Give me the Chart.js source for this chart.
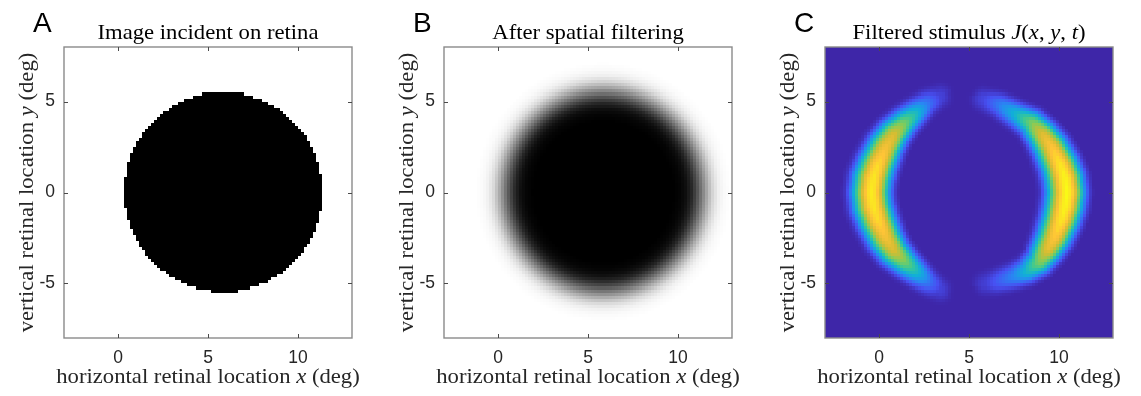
<!DOCTYPE html>
<html><head><meta charset="utf-8">
<script src="https://cdn.jsdelivr.net/npm/chart.js@4.4.1/dist/chart.umd.min.js"></script>
<style>
html,body{margin:0;padding:0;background:#fff;width:1141px;height:396px;overflow:hidden}
canvas{position:absolute;top:0}
</style></head><body>
<canvas id="cA" width="380" height="396" style="left:0px"></canvas>
<canvas id="cB" width="380" height="396" style="left:380px"></canvas>
<canvas id="cC" width="380" height="396" style="left:761px"></canvas>
<script>
// ---------------- data ----------------
const xTicks = [0, 5, 10];
const yTicks = [-5, 0, 5];
const xLimits = [-3, 13];
const yLimits = [-8, 8];
const cellSize = 1 / 6;                 // image resolution (deg per cell)

const panelLetters = ['A', 'B', 'C'];
const titleA = [['Image incident on retina', 'n']];
const titleB = [['After spatial filtering', 'n']];
const titleC = [['Filtered stimulus ', 'n'], ['J', 'i'], ['(', 'n'], ['x', 'i'], [', ', 'n'], ['y', 'i'], [', ', 'n'], ['t', 'i'], [')', 'n']];
const xLabel = [['horizontal retinal location ', 'n'], ['x', 'i'], [' (deg)', 'n']];
const yLabel = [['vertical retinal location ', 'n'], ['y', 'i'], [' (deg)', 'n']];

// panel A: the disk
const diskCenter = [5.85, 0.03];
const diskRadius = 5.5;

// panel B: darkness across the blurred edge (signed distance inside the disk edge, deg)
const blurDist = [-1.6, -1.2, -0.9, -0.6, -0.3, 0, 0.3, 0.6, 0.9, 1.2, 1.6];
const blurDark = [0, 0.02, 0.06, 0.15, 0.31, 0.5, 0.69, 0.85, 0.94, 0.98, 1.0];

// panel C: crescent mid-lines, peak level and relative width along them
const leftCrescentX = [3.4, 2.7, 2.15, 1.45, 0.85, 0.4, -0.05, -0.3, -0.4, -0.3, -0.05, 0.4, 0.85, 1.5, 2.2, 2.75, 3.4];
const leftCrescentY = [5.25, 4.9, 4.45, 3.85, 3.2, 2.5, 1.5, 0.75, 0, -0.75, -1.5, -2.5, -3.2, -3.85, -4.45, -4.9, -5.3];
const leftCrescentPeak = [0.08, 0.22, 0.4, 0.6, 0.78, 0.85, 0.93, 0.96, 0.97, 0.96, 0.93, 0.85, 0.78, 0.6, 0.4, 0.22, 0.08];
const leftCrescentWidth = [0.55, 0.6, 0.66, 0.74, 0.82, 0.9, 0.96, 1.0, 1.0, 1.0, 0.96, 0.9, 0.82, 0.74, 0.66, 0.6, 0.55];
const rightCrescentX = [5.8, 6.7, 7.7, 8.5, 9.1, 9.6, 10.1, 10.35, 10.45, 10.35, 10.15, 9.75, 9.35, 8.9, 8.25, 7.5, 6.5, 5.9];
const rightCrescentY = [5.15, 4.85, 4.3, 3.85, 3.2, 2.5, 1.5, 0.75, 0, -0.75, -1.5, -2.5, -3.2, -3.85, -4.35, -4.65, -4.95, -5.05];
const rightCrescentPeak = [0.09, 0.23, 0.42, 0.62, 0.8, 0.88, 0.96, 0.99, 1.0, 0.99, 0.96, 0.88, 0.8, 0.62, 0.42, 0.26, 0.14, 0.07];
const rightCrescentWidth = [0.55, 0.6, 0.66, 0.74, 0.82, 0.9, 0.96, 1.0, 1.0, 1.0, 0.96, 0.9, 0.82, 0.74, 0.66, 0.62, 0.58, 0.55];
// level across a crescent vs. distance from its mid-line (deg), west and east side
const crossDist = [0, 0.25, 0.5, 0.75, 1.0, 1.25, 1.5, 1.75];
const crossWest = [1.0, 0.95, 0.82, 0.6, 0.38, 0.17, 0.04, 0];
const crossEast = [1.0, 0.94, 0.77, 0.5, 0.25, 0.07, 0.0, 0];

// parula colormap stops
const parulaPos = [0, 0.12, 0.25, 0.37, 0.5, 0.62, 0.75, 0.87, 1];
const parulaRGB = [[62,38,168],[71,80,242],[40,136,242],[16,176,215],[55,200,151],[130,204,90],[210,188,50],[254,195,55],[249,251,21]];

// ---------------- helpers ----------------
function lookup(xs, ys, v) {
  if (v <= xs[0]) return ys[0];
  for (let i = 1; i < xs.length; i++) {
    if (v <= xs[i]) { const t = (v - xs[i-1]) / (xs[i] - xs[i-1]); return ys[i-1] + t * (ys[i] - ys[i-1]); }
  }
  return ys[ys.length - 1];
}
function parula(v) {
  v = Math.max(0, Math.min(1, v));
  for (let i = 1; i < parulaPos.length; i++) {
    if (v <= parulaPos[i]) {
      const t = (v - parulaPos[i-1]) / (parulaPos[i] - parulaPos[i-1]);
      const a = parulaRGB[i-1], b = parulaRGB[i];
      return [a[0]+t*(b[0]-a[0]), a[1]+t*(b[1]-a[1]), a[2]+t*(b[2]-a[2])];
    }
  }
  return parulaRGB[parulaRGB.length-1];
}
function crescentValue(px, py, cx, cy, peaks, widths) {
  let best = Infinity, bestPeak = 0, bestW = 1, side = 1;
  for (let k = 0; k < cx.length - 1; k++) {
    const ax = cx[k], ay = cy[k], dx = cx[k+1] - ax, dy = cy[k+1] - ay;
    let t = ((px - ax) * dx + (py - ay) * dy) / (dx*dx + dy*dy);
    t = Math.max(0, Math.min(1, t));
    const qx = ax + t*dx, qy = ay + t*dy;
    const d = Math.hypot(px - qx, py - qy);
    if (d < best) {
      best = d; bestPeak = peaks[k] + t * (peaks[k+1] - peaks[k]);
      bestW = widths[k] + t * (widths[k+1] - widths[k]);
      side = dx*(py-qy) - dy*(px-qx);
    }
  }
  return bestPeak * lookup(crossDist, side < 0 ? crossWest : crossEast, best / bestW);
}
function buildImage(colorAt) {
  const nx = Math.round((xLimits[1] - xLimits[0]) / cellSize);
  const ny = Math.round((yLimits[1] - yLimits[0]) / cellSize);
  const off = document.createElement('canvas'); off.width = nx; off.height = ny;
  const octx = off.getContext('2d'); const img = octx.createImageData(nx, ny);
  for (let j = 0; j < ny; j++) {
    const y = yLimits[1] - (j + 0.5) * cellSize;
    for (let i = 0; i < nx; i++) {
      const x = xLimits[0] + (i + 0.5) * cellSize;
      const c = colorAt(x, y); const p = (j * nx + i) * 4;
      img.data[p] = c[0]; img.data[p+1] = c[1]; img.data[p+2] = c[2]; img.data[p+3] = 255;
    }
  }
  octx.putImageData(img, 0, 0);
  return off;
}
const imgA = buildImage((x, y) => {
  const inside = Math.hypot(x - diskCenter[0], y - diskCenter[1]) <= diskRadius;
  return inside ? [0,0,0] : [255,255,255];
});
const imgB = buildImage((x, y) => {
  const d = diskRadius - Math.hypot(x - diskCenter[0], y - diskCenter[1]);
  const g = 255 * (1 - lookup(blurDist, blurDark, d));
  return [g, g, g];
});
const imgC = buildImage((x, y) => {
  const v = Math.max(crescentValue(x, y, leftCrescentX, leftCrescentY, leftCrescentPeak, leftCrescentWidth),
                     crescentValue(x, y, rightCrescentX, rightCrescentY, rightCrescentPeak, rightCrescentWidth));
  return parula(v);
});

// ---------------- drawing ----------------
const SERIF = '"Liberation Serif", "Times New Roman", serif';
function drawRich(ctx, segs, size, hscale, color) {
  let total = 0; const w = [];
  for (const [txt, st] of segs) { ctx.font = (st === 'i' ? 'italic ' : '') + size + 'px ' + SERIF; const m = ctx.measureText(txt).width; w.push(m); total += m; }
  ctx.save(); ctx.scale(hscale, 1);
  ctx.fillStyle = color; ctx.textAlign = 'left'; ctx.textBaseline = 'alphabetic';
  let x = -total / 2;
  segs.forEach(([txt, st], i) => { ctx.font = (st === 'i' ? 'italic ' : '') + size + 'px ' + SERIF; ctx.fillText(txt, x, 0); x += w[i]; });
  ctx.restore();
}
const panels = {
  cA: { img: imgA, letter: panelLetters[0], title: titleA },
  cB: { img: imgB, letter: panelLetters[1], title: titleB },
  cC: { img: imgC, letter: panelLetters[2], title: titleC }
};
const panelPlugin = {
  id: 'panelPlugin',
  beforeDatasetsDraw(chart) {
    const p = panels[chart.canvas.id]; const ctx = chart.ctx;
    const xs = chart.scales.x, ys = chart.scales.y, a = chart.chartArea;
    const x0 = xs.getPixelForValue(xLimits[0]), x1 = xs.getPixelForValue(xLimits[1]);
    const y0 = ys.getPixelForValue(yLimits[1]), y1 = ys.getPixelForValue(yLimits[0]);
    ctx.save();
    ctx.beginPath(); ctx.rect(a.left, a.top, a.right - a.left, a.bottom - a.top); ctx.clip();
    ctx.imageSmoothingEnabled = false;
    ctx.drawImage(p.img, x0, y0, x1 - x0, y1 - y0);
    ctx.restore();
  },
  afterDraw(chart) {
    const p = panels[chart.canvas.id]; const ctx = chart.ctx;
    const xs = chart.scales.x, ys = chart.scales.y, a = chart.chartArea;
    ctx.save();
    ctx.strokeStyle = '#8a8a8a'; ctx.lineWidth = 1.4;
    ctx.strokeRect(a.left, a.top, a.right - a.left, a.bottom - a.top);
    ctx.strokeStyle = '#4a4a4a'; ctx.lineWidth = 1;
    ctx.beginPath();
    for (const v of xTicks) {
      const px = Math.round(xs.getPixelForValue(v)) + 0.5;
      ctx.moveTo(px, a.bottom); ctx.lineTo(px, a.bottom - 4);
      ctx.moveTo(px, a.top); ctx.lineTo(px, a.top + 4);
    }
    for (const v of yTicks) {
      const py = Math.round(ys.getPixelForValue(v)) + 0.5;
      ctx.moveTo(a.left, py); ctx.lineTo(a.left + 4, py);
      ctx.moveTo(a.right, py); ctx.lineTo(a.right - 4, py);
    }
    ctx.stroke();
    ctx.fillStyle = '#000'; ctx.font = '28px "Liberation Sans", Arial, sans-serif';
    ctx.textAlign = 'left'; ctx.textBaseline = 'alphabetic';
    ctx.fillText(p.letter, a.left - 31, 32);
    const cx = (a.left + a.right) / 2, cy = (a.top + a.bottom) / 2;
    ctx.save(); ctx.translate(cx, 39); drawRich(ctx, p.title, 21, 1.08, '#000'); ctx.restore();
    ctx.save(); ctx.translate(cx, 383); drawRich(ctx, xLabel, 21, 1.08, '#262626'); ctx.restore();
    ctx.save(); ctx.translate(33, cy); ctx.rotate(-Math.PI / 2); drawRich(ctx, yLabel, 21, 1.08, '#262626'); ctx.restore();
    ctx.restore();
  }
};

function makeChart(id) {
  return new Chart(document.getElementById(id), {
    type: 'scatter',
    data: { datasets: [] },
    plugins: [panelPlugin],
    options: {
      responsive: false, maintainAspectRatio: false, animation: false, devicePixelRatio: 1,
      layout: { padding: { left: 0, right: 28, top: 47, bottom: 0 } },
      plugins: { legend: { display: false }, tooltip: { enabled: false }, title: { display: false } },
      scales: {
        x: {
          type: 'linear', min: xLimits[0], max: xLimits[1],
          afterBuildTicks: (axis) => { axis.ticks = xTicks.map(v => ({ value: v })); },
          afterFit: (s) => { s.height = 58; },
          grid: { display: false, drawTicks: false }, border: { display: false },
          ticks: { padding: 10, maxRotation: 0, color: '#262626', font: { family: '"Liberation Sans", Arial, sans-serif', size: 17.5 } }
        },
        y: {
          type: 'linear', min: yLimits[0], max: yLimits[1],
          afterBuildTicks: (axis) => { axis.ticks = yTicks.map(v => ({ value: v })); },
          afterFit: (s) => { s.width = 64; },
          grid: { display: false, drawTicks: false }, border: { display: false },
          ticks: { padding: 9, color: '#262626', font: { family: '"Liberation Sans", Arial, sans-serif', size: 17.5 } }
        }
      }
    }
  });
}
makeChart('cA'); makeChart('cB'); makeChart('cC');
</script>
</body></html>
